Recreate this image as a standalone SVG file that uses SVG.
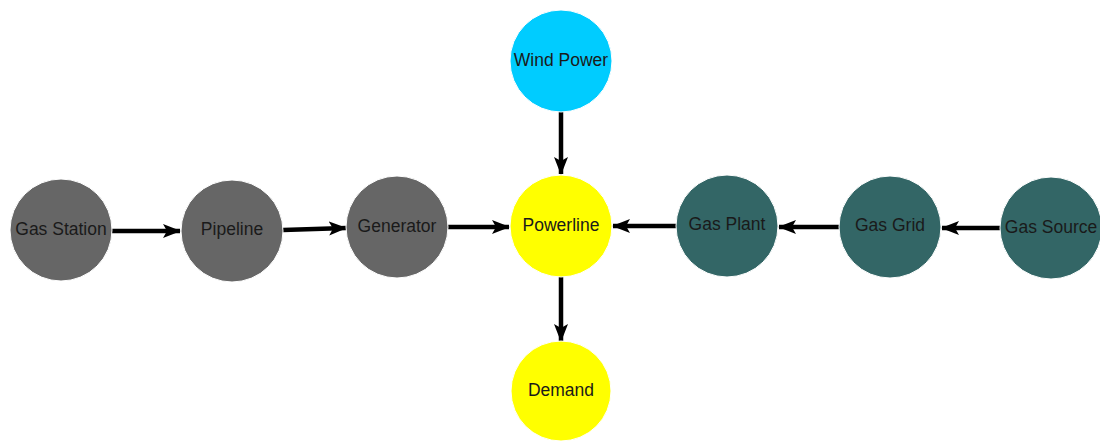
<svg xmlns="http://www.w3.org/2000/svg" width="1100" height="442" viewBox="0 0 1100 442">
  <style>
    .node circle { stroke: #ffffff; stroke-width: 1; }
    .gas circle { fill: #666666; }
    .supply circle { fill: #336666; }
    .wind circle { fill: #00ccff; }
    .power circle { fill: #ffff00; }
    .node text { font-family: "Liberation Sans", Arial, sans-serif; font-size: 17.5px; fill: #1a1a1a; text-anchor: middle; }
    .edge { stroke: #000000; stroke-width: 4.5; fill: none; marker-end: url(#arrow); }
  </style>
  <defs>
    <marker id="arrow" markerUnits="userSpaceOnUse" markerWidth="18" markerHeight="16" viewBox="0 0 18 16" refX="17" refY="8" orient="auto">
      <path d="M0,1 L18,8 L0,15 L4,8 Z" fill="#000000"/>
    </marker>
  </defs>

  <rect width="1100" height="442" fill="#ffffff"/>

  <g id="connectors">
    <line class="edge" x1="112" y1="231" x2="180" y2="231"/>
    <line class="edge" x1="283" y1="230" x2="346" y2="228"/>
    <line class="edge" x1="448" y1="227" x2="509" y2="227"/>
    <line class="edge" x1="561" y1="112" x2="561" y2="174"/>
    <line class="edge" x1="561" y1="277" x2="561" y2="341"/>
    <line class="edge" x1="677" y1="226" x2="613" y2="226"/>
    <line class="edge" x1="839" y1="227" x2="779" y2="227"/>
    <line class="edge" x1="1002" y1="228" x2="942" y2="228"/>
  </g>

  <g id="gas-station" class="node gas">
    <circle cx="61" cy="230" r="51"/>
    <text x="61" y="235">Gas Station</text>
  </g>
  <g id="pipeline" class="node gas">
    <circle cx="232" cy="231" r="51"/>
    <text x="232" y="235">Pipeline</text>
  </g>
  <g id="generator" class="node gas">
    <circle cx="397" cy="227" r="51"/>
    <text x="397" y="232">Generator</text>
  </g>
  <g id="powerline" class="node power">
    <circle cx="561" cy="226" r="51"/>
    <text x="561" y="231">Powerline</text>
  </g>
  <g id="wind-power" class="node wind">
    <circle cx="561" cy="61" r="51"/>
    <text x="561" y="66">Wind Power</text>
  </g>
  <g id="demand" class="node power">
    <circle cx="561" cy="391" r="50"/>
    <text x="561" y="396">Demand</text>
  </g>
  <g id="gas-plant" class="node supply">
    <circle cx="727" cy="226" r="51"/>
    <text x="727" y="230">Gas Plant</text>
  </g>
  <g id="gas-grid" class="node supply">
    <circle cx="890" cy="227" r="51"/>
    <text x="890" y="231">Gas Grid</text>
  </g>
  <g id="gas-source" class="node supply">
    <circle cx="1051" cy="228" r="51"/>
    <text x="1051" y="233">Gas Source</text>
  </g>
</svg>
